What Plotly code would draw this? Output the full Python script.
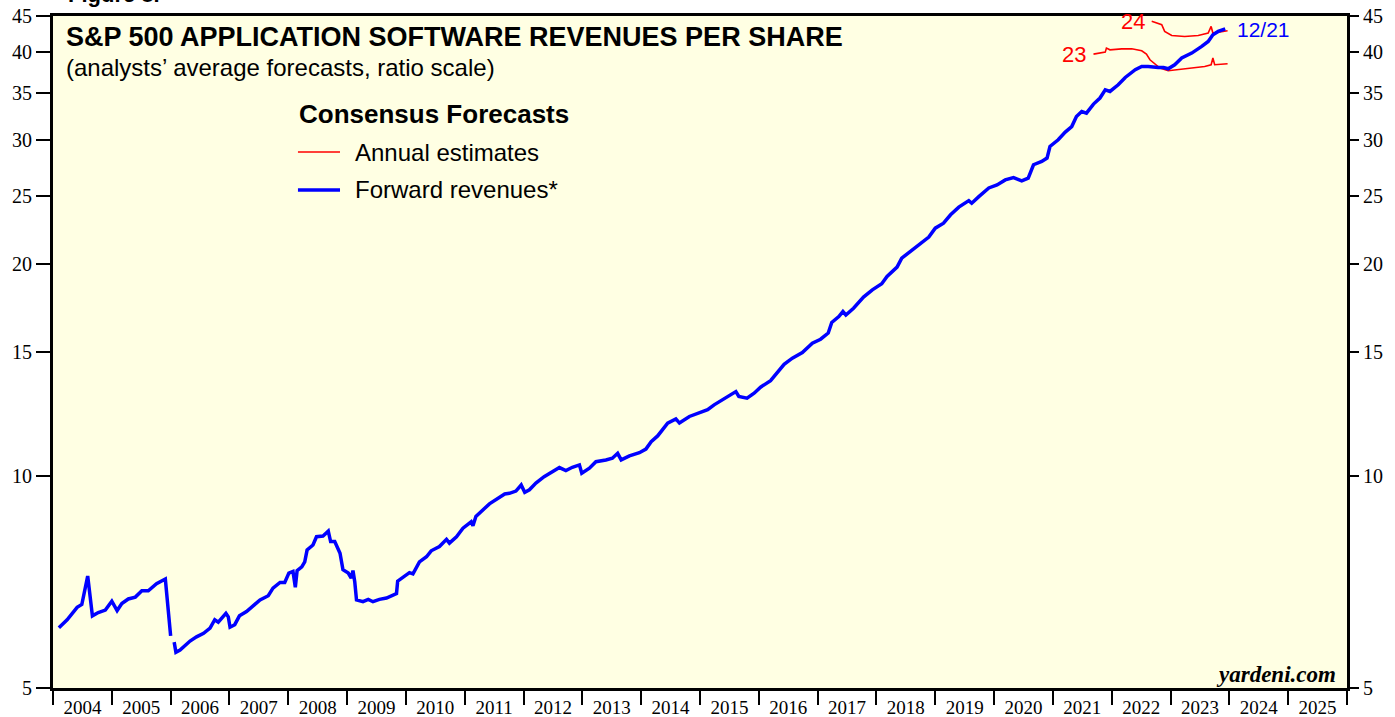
import plotly.graph_objects as go
import math

# Forward revenues (blue), decimal years and values ($ per share)
fwd_years = [2004.10, 2004.24, 2004.41, 2004.49, 2004.59, 2004.67, 2004.77, 2004.89, 2005.00, 2005.09,
             2005.17, 2005.28, 2005.40, 2005.51, 2005.62, 2005.76, 2005.91, 2006.00, None, 2006.06,
             2006.09, 2006.16, 2006.22, 2006.33, 2006.44, 2006.56, 2006.67, 2006.75, 2006.81, 2006.87,
             2006.94, 2006.98, 2007.01, 2007.09, 2007.17, 2007.29, 2007.40, 2007.52, 2007.66, 2007.74,
             2007.86, 2007.94, 2008.01, 2008.08, 2008.12, 2008.15, 2008.23, 2008.28, 2008.32, 2008.42,
             2008.48, 2008.59, 2008.68, 2008.72, 2008.79, 2008.88, 2008.93, 2009.02, 2009.07, 2009.10,
             2009.13, 2009.16, 2009.27, 2009.36, 2009.44, 2009.55, 2009.67, 2009.78, 2009.84, 2009.86,
             2009.95, 2010.06, 2010.12, 2010.23, 2010.35, 2010.43, 2010.57, 2010.69, 2010.74, 2010.86,
             2010.97, 2011.11, 2011.14, 2011.19, 2011.42, 2011.53, 2011.68, 2011.76, 2011.87, 2011.96,
             2012.02, 2012.10, 2012.21, 2012.35, 2012.49, 2012.61, 2012.72, 2012.83, 2012.95, 2012.99,
             2013.12, 2013.23, 2013.40, 2013.51, 2013.60, 2013.66, 2013.80, 2013.97, 2014.08, 2014.17,
             2014.28, 2014.39, 2014.45, 2014.59, 2014.65, 2014.82, 2014.98, 2015.13, 2015.24, 2015.41,
             2015.61, 2015.66, 2015.80, 2015.92, 2016.03, 2016.20, 2016.43, 2016.57, 2016.74, 2016.91,
             2017.05, 2017.18, 2017.24, 2017.36, 2017.43, 2017.48, 2017.61, 2017.78, 2017.93, 2018.09,
             2018.18, 2018.35, 2018.43, 2018.60, 2018.75, 2018.89, 2019.00, 2019.14, 2019.26, 2019.40,
             2019.57, 2019.62, 2019.74, 2019.91, 2020.05, 2020.19, 2020.33, 2020.47, 2020.58, 2020.67,
             2020.81, 2020.90, 2020.95, 2021.09, 2021.21, 2021.32, 2021.40, 2021.49, 2021.57, 2021.69,
             2021.80, 2021.89, 2021.97, 2022.11, 2022.23, 2022.40, 2022.51, 2022.62, 2022.79, 2022.88,
             2022.96, 2023.07, 2023.19, 2023.36, 2023.53, 2023.64, 2023.72, 2023.81, 2023.93]
fwd_values = [6.09, 6.25, 6.51, 6.57, 7.21, 6.33, 6.40, 6.45, 6.64, 6.44,
              6.59, 6.69, 6.73, 6.87, 6.87, 7.03, 7.14, 5.93, None, 5.81,
              5.62, 5.66, 5.72, 5.83, 5.91, 5.98, 6.08, 6.25, 6.20, 6.28,
              6.38, 6.31, 6.10, 6.15, 6.33, 6.42, 6.54, 6.67, 6.76, 6.93,
              7.06, 7.06, 7.28, 7.32, 6.95, 7.34, 7.43, 7.55, 7.85, 7.98,
              8.20, 8.22, 8.35, 8.07, 8.07, 7.77, 7.36, 7.28, 7.16, 7.34,
              7.08, 6.67, 6.63, 6.68, 6.63, 6.68, 6.71, 6.78, 6.81, 7.09,
              7.17, 7.29, 7.26, 7.55, 7.68, 7.83, 7.94, 8.13, 8.03, 8.20,
              8.43, 8.61, 8.50, 8.76, 9.13, 9.25, 9.43, 9.45, 9.52, 9.71,
              9.48, 9.56, 9.77, 9.98, 10.15, 10.28, 10.18, 10.29, 10.37, 10.09,
              10.26, 10.48, 10.54, 10.60, 10.77, 10.54, 10.68, 10.79, 10.92, 11.19,
              11.40, 11.69, 11.89, 12.05, 11.89, 12.15, 12.28, 12.42, 12.62, 12.86,
              13.18, 12.97, 12.90, 13.11, 13.37, 13.66, 14.41, 14.70, 14.97, 15.44,
              15.64, 15.96, 16.52, 16.84, 17.12, 16.93, 17.31, 17.95, 18.38, 18.75,
              19.20, 19.80, 20.39, 20.91, 21.35, 21.84, 22.49, 22.86, 23.49, 24.09,
              24.61, 24.40, 24.93, 25.65, 25.90, 26.33, 26.53, 26.25, 26.49, 27.67,
              27.97, 28.28, 29.37, 30.02, 30.79, 31.35, 32.40, 32.93, 32.76, 33.74,
              34.41, 35.35, 35.16, 35.94, 36.81, 37.75, 38.16, 38.16, 38.03, 38.03,
              37.87, 38.37, 39.22, 39.86, 40.74, 41.40, 42.33, 42.79, 43.16]

# Annual estimates (red)
est23_years = [2021.69, 2021.89, 2021.91, 2021.97, 2022.17, 2022.34, 2022.51, 2022.59, 2022.65, 2022.76,
               2022.82, 2022.96, 2023.13, 2023.36, 2023.58, 2023.69, 2023.72, 2023.75, 2023.97]
est23_values = [39.73, 39.99, 40.52, 40.29, 40.42, 40.42, 40.16, 39.73, 39.00, 38.37,
                37.96, 37.63, 37.75, 37.96, 38.16, 38.37, 39.22, 38.37, 38.49]
est24_years = [2022.68, 2022.76, 2022.85, 2022.90, 2023.02, 2023.24, 2023.47, 2023.64, 2023.69, 2023.72, 2023.97]
est24_values = [44.22, 43.98, 43.74, 42.79, 42.23, 42.09, 42.23, 42.56, 43.49, 42.56, 42.88]

year_labels = [str(y) for y in range(2004, 2026)]
year_label_pos = [y + 0.5 for y in range(2004, 2026)]
y_ticks = [5, 10, 15, 20, 25, 30, 35, 40, 45]

BLUE = "#0000FF"
RED = "#FF0000"

fig = go.Figure()
fig.add_trace(go.Scatter(x=est23_years, y=est23_values, mode="lines",
                         line=dict(color=RED, width=1.6), showlegend=False, hoverinfo="skip"))
fig.add_trace(go.Scatter(x=est24_years, y=est24_values, mode="lines",
                         line=dict(color=RED, width=1.6), showlegend=False, hoverinfo="skip"))
fig.add_trace(go.Scatter(x=fwd_years, y=fwd_values, mode="lines", connectgaps=False,
                         line=dict(color=BLUE, width=3.5), showlegend=False))
# invisible trace on the right-hand axis
fig.add_trace(go.Scatter(x=[2004, 2026], y=[5, 45], yaxis="y2", mode="lines",
                         line=dict(width=0), opacity=0, showlegend=False, hoverinfo="skip"))

yr = [math.log10(5), math.log10(45)]
tickfont = dict(family="Liberation Serif", size=20, color="black")

fig.update_layout(
    width=1395, height=717,
    margin=dict(l=53, r=48, t=16, b=29),
    paper_bgcolor="white",
    plot_bgcolor="#FFFFE3",
    xaxis=dict(range=[2004, 2026], tickmode="array", tickvals=year_label_pos, ticktext=year_labels,
               ticks="", tickfont=dict(family="Liberation Serif", size=19, color="black"),
               ticklabelstandoff=0, automargin=False,
               showgrid=False, zeroline=False, showline=True, linecolor="black", linewidth=3, mirror=True,
               minor=dict(tick0=2004, dtick=1, ticks="outside", ticklen=14, tickwidth=2,
                          tickcolor="black", showgrid=False)),
    yaxis=dict(type="log", range=yr, tickmode="array", tickvals=y_ticks, automargin=False,
               ticktext=[str(v) for v in y_ticks], ticks="outside", ticklen=14, tickwidth=1.5,
               tickcolor="black", tickfont=tickfont, showgrid=False, zeroline=False,
               showline=True, linecolor="black", linewidth=3, mirror=True),
    yaxis2=dict(type="log", range=yr, overlaying="y", side="right", tickmode="array", automargin=False,
                tickvals=y_ticks, ticktext=[str(v) for v in y_ticks], ticks="outside", ticklen=11,
                tickwidth=1.5, tickcolor="black", tickfont=tickfont, showgrid=False,
                zeroline=False, showline=False),
)

ann = []
ann.append(dict(text="<b>Figure 8.</b>", xref="paper", yref="paper", x=0.01, y=1, yshift=7,
                xanchor="left", yanchor="bottom", showarrow=False,
                font=dict(family="Liberation Sans", size=22, color="black")))
ann.append(dict(text="<b>S&P 500 APPLICATION SOFTWARE REVENUES PER SHARE</b>", xref="paper", yref="paper",
                x=0.0085, y=0.969, xanchor="left", yanchor="middle", showarrow=False,
                font=dict(family="Liberation Sans", size=27, color="black")))
ann.append(dict(text="(analysts\u2019 average forecasts, ratio scale)", xref="paper", yref="paper",
                x=0.0085, y=0.924, xanchor="left", yanchor="middle", showarrow=False,
                font=dict(family="Liberation Sans", size=24, color="black")))
ann.append(dict(text="<b>Consensus Forecasts</b>", xref="paper", yref="paper",
                x=0.1885, y=0.854, xanchor="left", yanchor="middle", showarrow=False,
                font=dict(family="Liberation Sans", size=26, color="black")))
ann.append(dict(text="Annual estimates", xref="paper", yref="paper",
                x=0.232, y=0.7976, xanchor="left", yanchor="middle", showarrow=False,
                font=dict(family="Liberation Sans", size=24, color="black")))
ann.append(dict(text="Forward revenues*", xref="paper", yref="paper",
                x=0.232, y=0.7411, xanchor="left", yanchor="middle", showarrow=False,
                font=dict(family="Liberation Sans", size=24, color="black")))
ann.append(dict(text="<b><i>yardeni.com</i></b>", xref="paper", yref="paper",
                x=0.993, y=0.02, xanchor="right", yanchor="middle", showarrow=False,
                font=dict(family="Liberation Serif", size=23, color="black")))
ann.append(dict(text="23", x=2021.35, y=math.log10(39.65), xanchor="center", yanchor="middle",
                showarrow=False, font=dict(family="Liberation Sans", size=22, color=RED)))
ann.append(dict(text="24", x=2022.37, y=math.log10(44.2), xanchor="center", yanchor="middle",
                showarrow=False, font=dict(family="Liberation Sans", size=22, color=RED)))
ann.append(dict(text="12/21", x=2024.1, y=math.log10(43.0), xanchor="left", yanchor="middle",
                showarrow=False, font=dict(family="Liberation Sans", size=21, color=BLUE)))
fig.update_layout(annotations=ann)

fig.add_shape(type="line", xref="paper", yref="paper", x0=0.1893, x1=0.2218, y0=0.7976, y1=0.7976,
              line=dict(color=RED, width=1.6))
fig.add_shape(type="line", xref="paper", yref="paper", x0=0.1893, x1=0.2218, y0=0.7411, y1=0.7411,
              line=dict(color=BLUE, width=3.5))

fig.write_html("out.html", config={"displayModeBar": False},
               post_script="document.body.style.margin='0';document.body.style.overflow='hidden';")
